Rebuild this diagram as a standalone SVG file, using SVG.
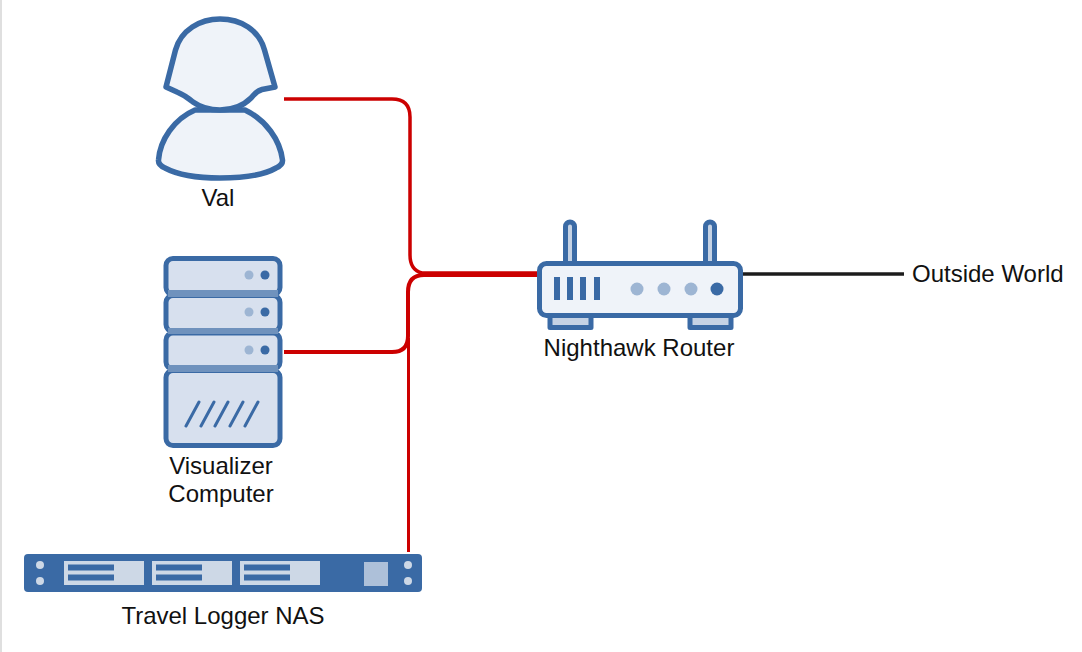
<svg xmlns="http://www.w3.org/2000/svg" width="1082" height="652" viewBox="0 0 1082 652">
<style>
text{font-family:"Liberation Sans",Arial,sans-serif;font-size:24px;fill:#111}
.o{stroke:#3a6aa5;stroke-width:5;stroke-linejoin:round}
.lt{fill:#eff3f9}
.md{fill:#d7e0ee}
.c{fill:none;stroke:#cc0000;stroke-linecap:butt}
.dim{fill:#9db5d3}
.dk{fill:#3a6aa5}
.pale{fill:#cdd8e6}
.band{fill:#6f92bd}
</style>
<rect x="0" y="0" width="2" height="652" fill="#dfdfdf"/>
<g id="connectors">
<path class="c" stroke-width="3.500" d="M284 99H392Q410 99 410 117V255Q410 270 422 273H538"/>
<path class="c" stroke-width="4" d="M284 352H392Q408 352 408 336V292Q408 275 424 275H538"/>
<path class="c" stroke-width="3" d="M408.500 552V338"/>
<path fill="none" stroke="#1c1c1c" stroke-width="3.500" d="M743 274H904"/>
</g>
<g id="val">
<path class="o lt" style="stroke-width:5.500" d="M195 110C174 119 160 140 158.500 160Q158 165 165 168C178 175 198 178 220 178C244 178 264 175 276 168Q283 165 282.500 160C280 140 266 120 245 110Z"/>
<path class="o lt" style="stroke-width:5.500" d="M166 87L175.500 50C181 30 200 19 220 19C241 19 259 30 264.500 50L275 87L262 89.500C256 91 254 95 251 98C243 106 233 110 220 110C209 110 200 107 193 102C186 96 182 94 177 92Z"/>
<text x="218" y="206" text-anchor="middle">Val</text>
</g>
<g id="visualizer">
<rect class="o md" x="166" y="258.500" width="114" height="36" rx="7"/>
<rect class="o md" x="166" y="295.500" width="114" height="36" rx="7"/>
<rect class="o md" x="166" y="333" width="114" height="36" rx="7"/>
<rect class="o md" x="166" y="370.500" width="114" height="75" rx="7"/>
<rect class="band" x="168" y="290" width="110" height="7"/>
<rect class="band" x="168" y="328" width="110" height="6"/>
<rect class="band" x="168" y="365" width="110" height="7"/>
<circle class="dim" cx="249" cy="275" r="4.500"/><circle class="dk" cx="265" cy="275" r="4.500"/>
<circle class="dim" cx="249" cy="312" r="4.500"/><circle class="dk" cx="265" cy="312" r="4.500"/>
<circle class="dim" cx="249" cy="350" r="4.500"/><circle class="dk" cx="265" cy="350" r="4.500"/>
<path d="M186 426L199 402M201 426L214 402M215 426L228 402M230 426L243 402M245 426L258 402" fill="none" stroke="#3a6aa5" stroke-width="3" stroke-linecap="round"/>
<text x="221" y="474" text-anchor="middle">Visualizer</text>
<text x="221" y="502" text-anchor="middle">Computer</text>
</g>
<g id="nas">
<rect class="dk" x="24" y="554" width="398" height="38" rx="4"/>
<rect class="pale" x="64" y="561" width="80" height="24"/>
<rect class="pale" x="152" y="561" width="80" height="24"/>
<rect class="pale" x="240" y="561" width="80" height="24"/>
<path d="M68 564.500H114V570.500H68ZM68 574.500H114V580.500H68ZM156 564.500H202V570.500H156ZM156 574.500H202V580.500H156ZM244 564.500H290V570.500H244ZM244 574.500H290V580.500H244Z" fill="#3a6aa5"/>
<rect fill="#adc0d9" x="364" y="562" width="24" height="24"/>
<circle class="pale" cx="40" cy="565" r="4"/><circle class="pale" cx="40" cy="581" r="4"/>
<circle class="pale" cx="408" cy="565" r="4"/><circle class="pale" cx="408" cy="581" r="4"/>
<text x="223" y="624" text-anchor="middle">Travel Logger NAS</text>
</g>
<g id="router">
<rect class="o" fill="#c5d2e4" x="565.500" y="222" width="9" height="44" rx="4.500"/>
<rect class="o" fill="#c5d2e4" x="705.500" y="222" width="9" height="44" rx="4.500"/>
<rect class="o" fill="#c5d2e4" x="550" y="312" width="41" height="15.500"/>
<rect class="o" fill="#c5d2e4" x="690" y="312" width="41" height="15.500"/>
<rect class="o lt" x="539.500" y="263.500" width="201" height="52" rx="7"/>
<path d="M557 277V300M570 277V300M583 277V300M597 277V300" fill="none" stroke="#3a6aa5" stroke-width="6"/>
<circle class="dim" cx="637" cy="289" r="6.500"/><circle class="dim" cx="664" cy="289" r="6.500"/><circle class="dim" cx="691" cy="289" r="6.500"/><circle class="dk" cx="717" cy="289" r="6.500"/>
<text x="639" y="356" text-anchor="middle">Nighthawk Router</text>
</g>
<g id="outside">
<text x="912" y="282">Outside World</text>
</g>
</svg>
